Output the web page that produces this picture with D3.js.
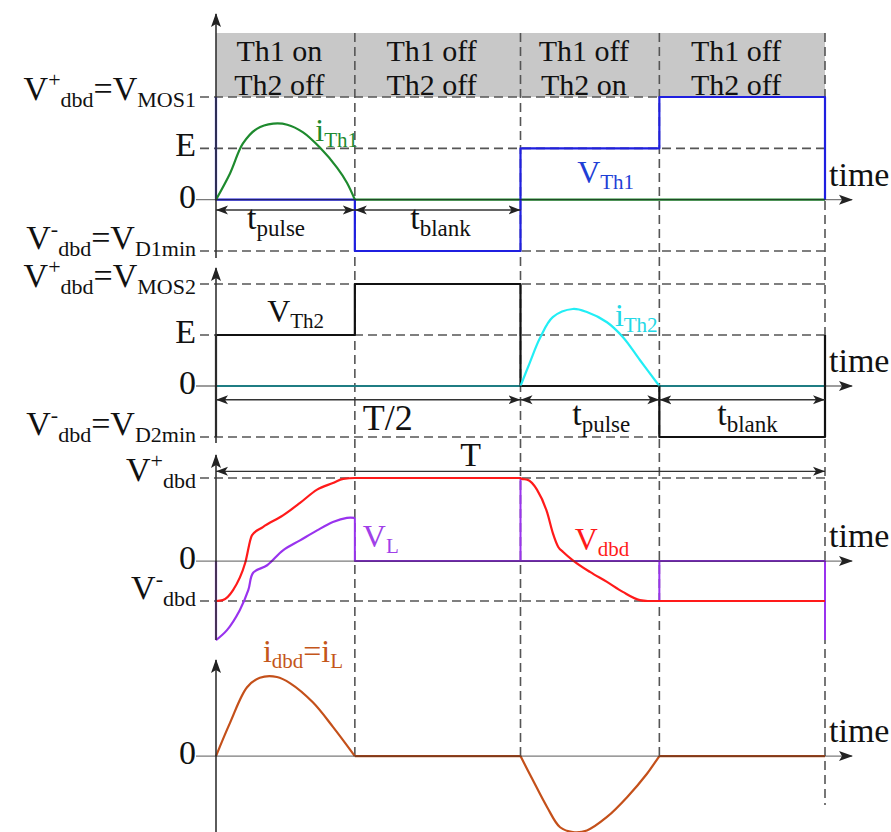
<!DOCTYPE html>
<html><head><meta charset="utf-8">
<script src="https://cdn.jsdelivr.net/npm/d3@7"></script>
<style>body{margin:0;background:#fff}svg{display:block}text{font-family:"Liberation Serif","Times New Roman",serif}</style>
</head><body><svg id="c" width="891" height="832"></svg>
<script>
// ---------------- data ----------------
const phaseBounds = [0, 0.228, 0.5, 0.728, 1];
const phaseTop    = ["Th1 on", "Th1 off", "Th1 off", "Th1 off"];
const phaseBottom = ["Th2 off", "Th2 off", "Th2 on", "Th2 off"];

// panel 1
const vTh1 = [[0,2],[0,0],[0.228,0],[0.228,-1],[0.5,-1],[0.5,1],[0.728,1],[0.728,2],[1,2],[1,0]];
const iTh1Pulse = [[0,0],[0.023,0.51],[0.044,1.09],[0.067,1.38],[0.094,1.48],[0.117,1.46],[0.143,1.31],[0.171,1.01],[0.199,0.62],[0.215,0.33],[0.228,0]];
const iTh1Flat = [[0.228,0],[1,0]];
// panel 2
const vTh2 = [[0,-1],[0,1],[0.228,1],[0.228,2],[0.5,2],[0.5,0],[0.728,0],[0.728,-1],[1,-1],[1,1]];
const iTh2Pulse = [[0.5,0],[0.515,0.45],[0.532,0.94],[0.553,1.35],[0.586,1.51],[0.609,1.45],[0.642,1.25],[0.668,0.96],[0.696,0.51],[0.728,0]];
const iTh2Flat1 = [[0,0],[0.5,0]];
const iTh2Flat2 = [[0.728,0],[1,0]];
// panel 3
const vDbd = [[0,-0.48],[0.011,-0.47],[0.028,-0.35],[0.048,-0.02],[0.059,0.31],[0.077,0.41],[0.110,0.55],[0.138,0.70],[0.166,0.86],[0.192,0.94],[0.209,0.99],[0.228,1],[0.5,1],[0.502,0.99],[0.511,0.98],[0.527,0.86],[0.544,0.58],[0.553,0.34],[0.562,0.17],[0.570,0.11],[0.586,0.01],[0.614,-0.13],[0.642,-0.25],[0.668,-0.37],[0.696,-0.47],[0.709,-0.48],[1,-0.48]];
const vLCurve = [[0,-0.95],[0.018,-0.83],[0.039,-0.59],[0.053,-0.35],[0.061,-0.14],[0.084,-0.05],[0.110,0.13],[0.138,0.25],[0.166,0.37],[0.192,0.47],[0.215,0.52],[0.228,0.52]];
const vLSteps = [[0,0],[0,-0.95]];
const vLRest = [[0.228,0.52],[0.228,0],[0.5,0],[0.5,1],[0.5,0],[0.728,0],[0.728,-0.48],[0.728,0],[1,0],[1,-0.95]];
// panel 4
const iDbdPulse1 = [[0,0],[0.023,0.42],[0.051,0.87],[0.072,0.99],[0.100,1.0],[0.122,0.92],[0.159,0.68],[0.192,0.37],[0.228,0]];
const iDbdPulse2 = [[0.5,0],[0.52,-0.30],[0.544,-0.65],[0.565,-0.90],[0.586,-0.96],[0.609,-0.94],[0.642,-0.77],[0.675,-0.52],[0.708,-0.22],[0.728,0]];
const iDbdFlat = [[[0.228,0],[0.5,0]],[[0.728,0],[1,0]]];

// level (tick) labels per panel: value and text parts
const levelsP1 = [
  {v:2, parts:[["V"],["+","sup"],["dbd","sub"],["=V"],["MOS1","sub"]], dash:true},
  {v:1, parts:[["E"]], dash:true},
  {v:0, parts:[["0"]], dash:false},
  {v:-1, parts:[["V"],["-","sup"],["dbd","sub"],["=V"],["D1min","sub"]], dash:true}];
const levelsP2 = [
  {v:2, parts:[["V"],["+","sup"],["dbd","sub"],["=V"],["MOS2","sub"]], dash:true},
  {v:1, parts:[["E"]], dash:true},
  {v:0, parts:[["0"]], dash:false},
  {v:-1, parts:[["V"],["-","sup"],["dbd","sub"],["=V"],["D2min","sub"]], dash:true}];
const levelsP3 = [
  {v:1, parts:[["V"],["+","sup"],["dbd","sub"]], dash:true},
  {v:0, parts:[["0"]], dash:false},
  {v:-0.48, parts:[["V"],["-","sup"],["dbd","sub"]], dash:true}];
const levelsP4 = [{v:0, parts:[["0"]], dash:false}];

// series name labels: panel, t, value, parts
const seriesLabels = [
  {p:0, t:0.163, v:1.14, parts:[["i"],["Th1","sub"]], color:"#1e8a2e"},
  {p:0, t:0.593, v:0.33, parts:[["V"],["Th1","sub"]], color:"#1f3fd6"},
  {p:1, t:0.084, v:1.25, parts:[["V"],["Th2","sub"]], color:"#111"},
  {p:1, t:0.655, v:1.18, parts:[["i"],["Th2","sub"]], color:"#22d8e6"},
  {p:2, t:0.241, v:0.17, parts:[["V"],["L","sub"]], color:"#a040e8"},
  {p:2, t:0.589, v:0.13, parts:[["V"],["dbd","sub"]], color:"#ff1a1a"},
  {p:3, t:0.077, v:1.19, parts:[["i"],["dbd","sub"],["=i"],["L","sub"]], color:"#c4561a"}];

// dimension arrows: panel, from, to, value; label at (lt, lv)
const dims = [
  {p:0, t0:0, t1:0.228, v:-0.2, lt:0.051, lv:-0.57, parts:[["t"],["pulse","sub"]]},
  {p:0, t0:0.228, t1:0.5, v:-0.2, lt:0.319, lv:-0.57, parts:[["t"],["blank","sub"]]},
  {p:1, t0:0, t1:0.5, v:-0.27, lt:0.241, lv:-0.86, parts:[["T/2"]], big:true},
  {p:1, t0:0.5, t1:0.728, v:-0.27, lt:0.585, lv:-0.76, parts:[["t"],["pulse","sub"]]},
  {p:1, t0:0.728, t1:1, v:-0.27, lt:0.823, lv:-0.76, parts:[["t"],["blank","sub"]]},
  {p:2, t0:0, t1:1, v:1.08, lt:0.401, lv:1.14, parts:[["T"]]}];

// ---------------- layout ----------------
const svg = d3.select("#c");
const x = d3.scaleLinear().domain([0,1]).range([216,825]);
const panels = [
  {y: d3.scaleLinear().domain([-1,2]).range([251,97]),   axisTop:14,  axisBot:258, levels:levelsP1},
  {y: d3.scaleLinear().domain([-1,2]).range([437,284]),  axisTop:268, axisBot:443, levels:levelsP2},
  {y: d3.scaleLinear().domain([-0.48,1]).range([601,478]), axisTop:455, axisBot:640, levels:levelsP3},
  {y: d3.scaleLinear().domain([-0.96,1]).range([832,677]), axisTop:660, axisBot:832, levels:levelsP4}];
const headerTop = 33;
const dashColor = "#555", dashArr = "9,5";

const defs = svg.append("defs");
defs.append("marker").attr("id","ax").attr("markerUnits","userSpaceOnUse")
  .attr("markerWidth",16).attr("markerHeight",12).attr("refX",13).attr("refY",6).attr("orient","auto")
  .append("path").attr("d","M0,1 L14,6 L0,11 L3,6 Z").attr("fill","#222");
defs.append("marker").attr("id","dm").attr("markerUnits","userSpaceOnUse")
  .attr("markerWidth",14).attr("markerHeight",10).attr("refX",12).attr("refY",5).attr("orient","auto-start-reverse")
  .append("path").attr("d","M0,0.5 L12,5 L0,9.5 L3,5 Z").attr("fill","#222");

function rich(g, px, py, parts, opts) {
  const base = opts.size || 32, sub = opts.sub || Math.round(base*0.66);
  const t = g.append("text").attr("x", px).attr("y", py)
    .attr("text-anchor", opts.anchor || "start").attr("fill", opts.color || "#111")
    .attr("font-size", base);
  let cur = 0;
  parts.forEach(([s, kind]) => {
    const shift = kind === "sub" ? Math.round(base*0.2) : kind === "sup" ? -Math.round(base*0.38) : 0;
    t.append("tspan").attr("dy", shift - cur).attr("font-size", kind ? sub : base).text(s);
    cur = shift;
  });
  return t;
}

// header band
const gH = svg.append("g");
gH.append("rect").attr("x", x(0)).attr("y", headerTop).attr("width", x(1)-x(0))
  .attr("height", panels[0].y(2)-headerTop).attr("fill", "#c8c8c8");
phaseTop.forEach((s,i) => {
  const cx = (x(phaseBounds[i]) + x(phaseBounds[i+1]))/2 - 6;
  gH.append("text").attr("x",cx).attr("y",61).attr("text-anchor","middle").attr("font-size",30).attr("fill","#111").text(s);
  gH.append("text").attr("x",cx).attr("y",95).attr("text-anchor","middle").attr("font-size",30).attr("fill","#111").text(phaseBottom[i]);
});

// grid dashes
const gD = svg.append("g").attr("stroke", dashColor).attr("stroke-width",1.6).attr("stroke-dasharray",dashArr).attr("fill","none");
panels.forEach(P => P.levels.filter(l=>l.dash).forEach(l => {
  gD.append("line").attr("x1",200).attr("x2",x(1)).attr("y1",P.y(l.v)).attr("y2",P.y(l.v));
}));
phaseBounds.slice(1).forEach(b => {
  gD.append("line").attr("x1",x(b)).attr("x2",x(b)).attr("y1",headerTop)
    .attr("y2", b===1 ? 805 : panels[3].y(0));
});

// series
function path(P, data, color, curve, w) {
  const gen = d3.line().x(d=>x(d[0])).y(d=>P.y(d[1])).curve(curve || d3.curveLinear);
  svg.append("path").attr("d", gen(data)).attr("fill","none").attr("stroke",color)
    .attr("stroke-width", w || 2.2).attr("stroke-linejoin","round");
}
const smooth = d3.curveCatmullRom.alpha(0.5);
const mono = d3.curveMonotoneX;
const P1=panels[0], P2=panels[1], P3=panels[2], P4=panels[3];
path(P1, iTh1Flat, "#1e8a2e");
path(P1, vTh1, "#1f1fe0");
path(P1, iTh1Pulse, "#1e8a2e", smooth);
path(P2, iTh2Flat1, "#1ec8d2");
path(P2, iTh2Flat2, "#1ec8d2");
path(P2, vTh2, "#111");
path(P2, iTh2Pulse, "#22eef5", smooth);
path(P3, vLSteps, "#9933ee");
path(P3, vLRest, "#9933ee", null, 2);
path(P3, vLCurve, "#9933ee", smooth);
path(P3, vDbd, "#ff1a1a", mono);
iDbdFlat.forEach(f => path(P4, f, "#c4501a"));
path(P4, iDbdPulse1, "#c4501a", smooth);
path(P4, iDbdPulse2, "#c4501a", smooth);

// axes
const gA = svg.append("g");
panels.forEach(P => {
  gA.append("line").attr("x1",x(0)).attr("x2",x(0)).attr("y1",P.axisBot).attr("y2",P.axisTop)
    .attr("stroke","#333").attr("stroke-width",1.6).attr("marker-end","url(#ax)");
  gA.append("line").attr("x1",196).attr("x2",852).attr("y1",P.y(0)).attr("y2",P.y(0))
    .attr("stroke","#222").attr("stroke-opacity",0.6).attr("stroke-width",1.3).attr("marker-end","url(#ax)");
  rich(gA, 829, P.y(0)-14, [["time"]], {size:34});
  P.levels.forEach(l => {
    const off = l.parts.length === 1 ? 8 : (l.v > 0 ? 3 : -2);
    rich(gA, 196, P.y(l.v)+off, l.parts, {size:34, sub:22, anchor:"end"});
  });
});

// dimension arrows
dims.forEach(d => {
  const P = panels[d.p];
  gA.append("line").attr("x1",x(d.t0)).attr("x2",x(d.t1)).attr("y1",P.y(d.v)).attr("y2",P.y(d.v))
    .attr("stroke","#333").attr("stroke-width",1.4)
    .attr("marker-start","url(#dm)").attr("marker-end","url(#dm)");
  rich(gA, x(d.lt), P.y(d.lv), d.parts, {size: d.big ? 36 : 34, sub:23});
});

// series labels
seriesLabels.forEach(s => {
  rich(svg, x(s.t), panels[s.p].y(s.v), s.parts, {size:32, sub:21, color:s.color});
});
</script></body></html>
